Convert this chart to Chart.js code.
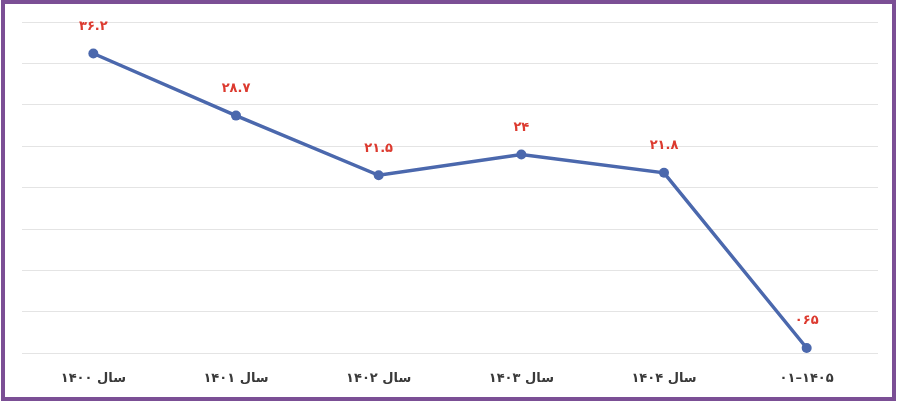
<!DOCTYPE html>
<html>
<head>
<meta charset="utf-8">
<script src="https://cdn.jsdelivr.net/npm/chart.js@4/dist/chart.umd.min.js"></script>
<style>
  html, body { margin: 0; padding: 0; background: #ffffff; }
  #wrap { position: relative; width: 900px; height: 403px; }
  #frame { position: absolute; left: 1px; top: 0px; right: 4px; bottom: 2px; border: 4px solid #7b4f95; box-sizing: border-box; pointer-events: none; }
</style>
</head>
<body>
<div id="wrap">
  <canvas id="c" width="900" height="403"></canvas>
  <div id="frame"></div>
</div>
<script>
const categories = ["سال ۱۴۰۰", "سال ۱۴۰۱", "سال ۱۴۰۲", "سال ۱۴۰۳", "سال ۱۴۰۴", "۰۱–۱۴۰۵"];
const values = [36.2, 28.7, 21.5, 24, 21.8, 0.65];
const valueLabels = ["۳۶.۲", "۲۸.۷", "۲۱.۵", "۲۴", "۲۱.۸", "۰۶۵"];
const yMin = 0, yMax = 40, yStep = 5;

const labelPlugin = {
  id: 'valueLabels',
  afterDatasetsDraw(chart) {
    const ctx = chart.ctx;
    const meta = chart.getDatasetMeta(0);
    ctx.save();
    ctx.fillStyle = '#dc3a2f';
    ctx.font = 'bold 13px "DejaVu Sans"';
    ctx.textAlign = 'center';
    ctx.textBaseline = 'middle';
    meta.data.forEach((pt, i) => {
      ctx.fillText(valueLabels[i], pt.x, pt.y - 27);
    });
    ctx.restore();
  }
};

new Chart(document.getElementById('c'), {
  type: 'line',
  data: {
    labels: categories,
    datasets: [{
      data: values,
      borderColor: '#4b68ad',
      backgroundColor: '#4b68ad',
      borderWidth: 3.5,
      pointRadius: 5,
      pointBackgroundColor: '#4b68ad',
      pointBorderWidth: 0,
      tension: 0,
      fill: false
    }]
  },
  options: {
    responsive: false,
    animation: false,
    devicePixelRatio: 1,
    layout: { padding: { left: 22, right: 22, top: 22, bottom: 0 } },
    plugins: { legend: { display: false }, tooltip: { enabled: false } },
    scales: {
      x: {
        offset: true,
        grid: { display: false, drawTicks: false },
        border: { display: false },
        ticks: {
          color: '#3a3a3a',
          font: { family: '"DejaVu Sans"', size: 13, weight: 'bold' },
          padding: 17,
          maxRotation: 0
        }
      },
      y: {
        min: yMin, max: yMax,
        grid: { color: '#e4e4e4', lineWidth: 1, drawTicks: false },
        border: { display: false },
        ticks: { display: false, stepSize: yStep }
      }
    }
  },
  plugins: [labelPlugin]
});
</script>
</body>
</html>
